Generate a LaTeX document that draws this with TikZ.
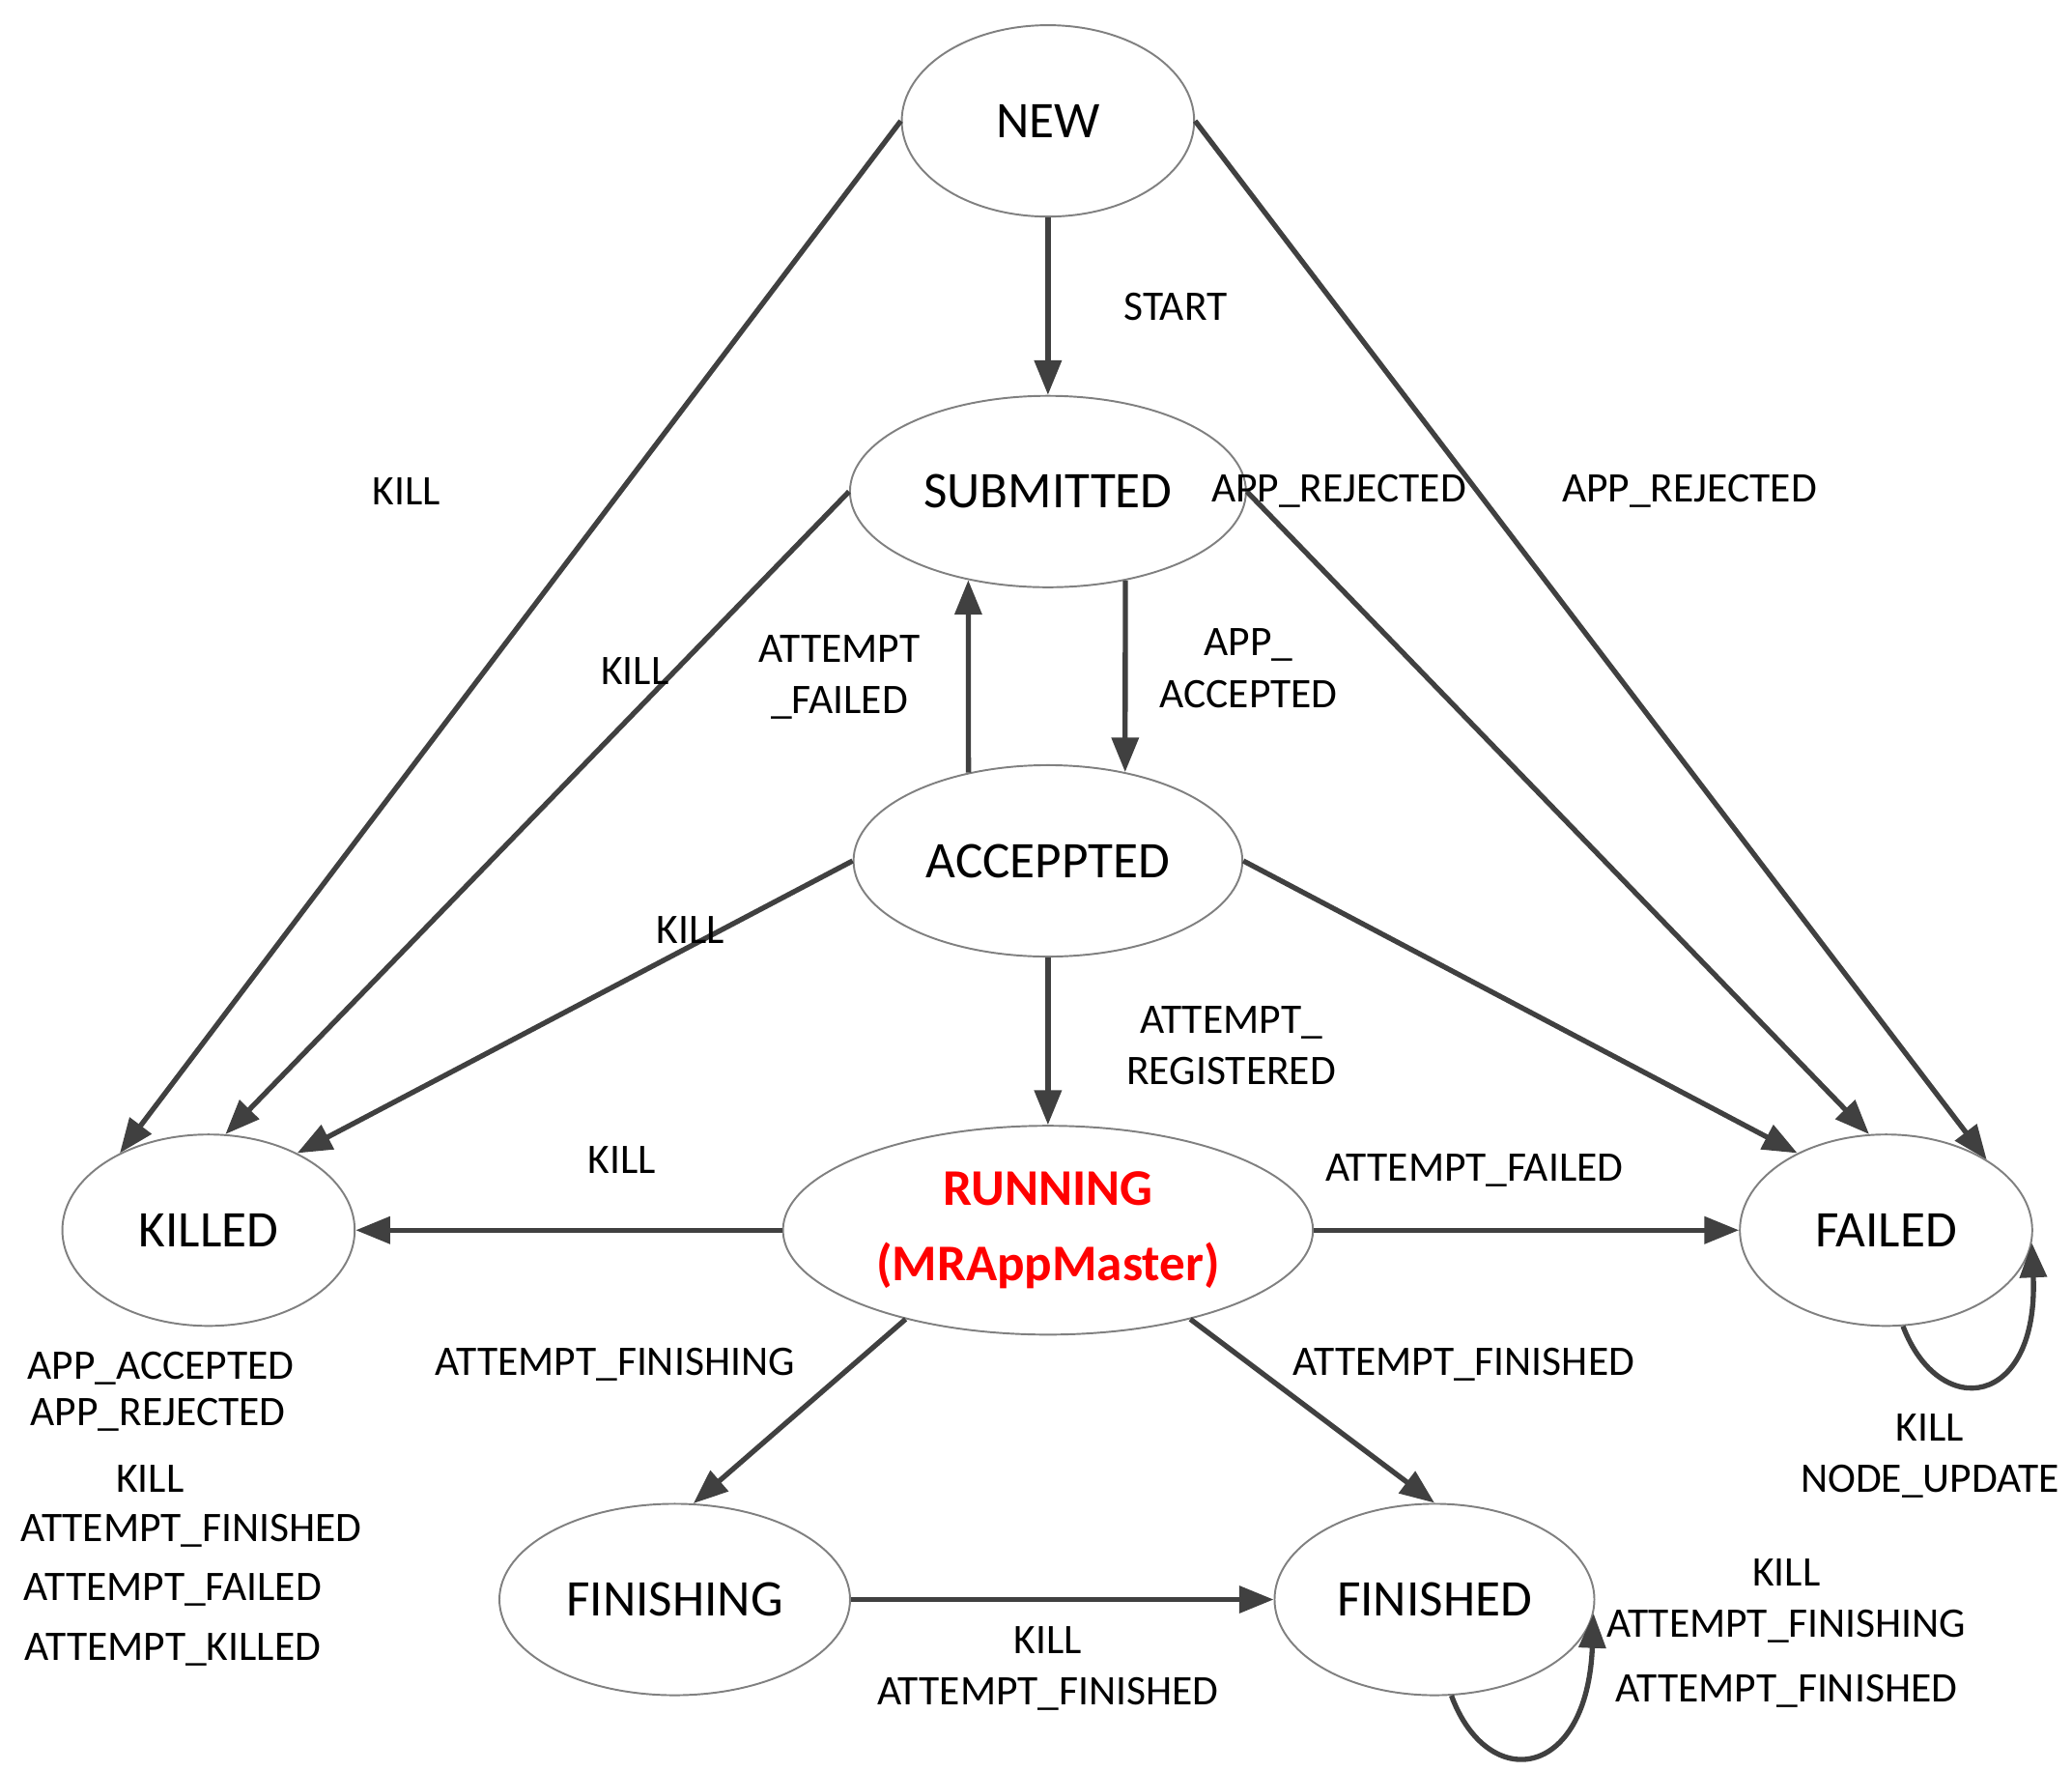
\documentclass[tikz,border=0pt]{standalone}
\usepackage{fontspec}
\setmainfont{Carlito}
\usetikzlibrary{arrows.meta,shapes.geometric}
\definecolor{edgegray}{RGB}{64,64,64}
\tikzset{
  pointer/.style={-{Triangle[length=0.26cm,width=0.2cm]}, draw=edgegray, line width=1.1pt},
}
\begin{document}
\begin{tikzpicture}[x=0.01cm,y=-0.01cm,
            state/.style={ellipse,draw=gray,thin,minimum width=2.2cm,minimum height=1.44cm,font=\fontsize{11}{13}\selectfont},
            lbl/.style={font=\fontsize{9}{11}\selectfont,align=center}]
  \useasboundingbox (0,0) rectangle (1560,1333);

  \node[state] (new) at (789,91) {NEW};
  \node[state] (submitted) at (789,370) {SUBMITTED};
  \node[state] (accepted) at (789,648) {ACCEPPTED};
  \node[state,minimum width=3.4cm,text=red,font=\fontsize{11}{16}\selectfont\bfseries,align=center] (running) at (789,926) {RUNNING\\(MRAppMaster)};
  \node[state] (killed) at (157,926) {KILLED};
  \node[state] (failed) at (1420,926) {FAILED};
  \node[state] (finishing) at (508,1204) {FINISHING};
  \node[state] (finished) at (1080,1204) {FINISHED};

  \draw[pointer] (new.west) -- (killed.139);
  \draw[pointer] (new.south) -- (submitted.north);
  \draw[pointer] (new.east) -- (failed.35);
  \draw[pointer] (submitted.west) -- (killed.80);
  \draw[pointer] (submitted.east) -- (failed.100);
  \draw[pointer] (submitted.-49) -- (accepted.49);
  \draw[pointer] (accepted.132) -- (submitted.-132);
  \draw[pointer] (accepted.west) -- (killed.41);
  \draw[pointer] (accepted.east) -- (failed.139);
  \draw[pointer] (accepted.south) -- (running.north);
  \draw[pointer] (running.west) -- (killed.east);
  \draw[pointer] (running.east) -- (failed.west);
  \draw[pointer] (running.-148) -- (finishing.79);
  \draw[pointer] (running.-32) -- (finished.north);
  \draw[pointer] (finishing.east) -- (finished.west);
  \draw[pointer] (failed.-80) .. controls (1460,1070) and (1535,1060) .. (failed.-5);
  \draw[pointer] (finished.-80) .. controls (1120,1350) and (1195,1340) .. (finished.-5);

  \node[lbl] (l1) at (306,370) {KILL};
  \node[lbl] (l2) at (885,231) {START};
  \node[lbl] (l3) at (1272,370) {APP\_REJECTED};
  \node[lbl] (l4) at (478,505) {KILL};
  \node[lbl] (l5) at (1008,370) {APP\_REJECTED};
  \node[lbl] (l6) at (940,503) {APP\_\\ACCEPTED};
  \node[lbl] (l7) at (632,510) {ATTEMPT\\\_FAILED};
  \node[lbl] (l8) at (520,700) {KILL};
  \node[lbl] (l9) at (927,787) {ATTEMPT\_\\REGISTERED};
  \node[lbl] (l10) at (468,873) {KILL};
  \node[lbl] (l11) at (1110,881) {ATTEMPT\_FAILED};
  \node[lbl] (l12) at (463,1027) {ATTEMPT\_FINISHING};
  \node[lbl] (l13) at (1102,1027) {ATTEMPT\_FINISHED};
  \node[lbl] (l14) at (789,1256) {KILL\\ATTEMPT\_FINISHED};
  \node[lbl] (l15) at (1453,1096) {KILL\\NODE\_UPDATE};
  \node[lbl] (l16) at (1345,1205) {KILL\\ATTEMPT\_FINISHING};
  \node[lbl] (l17) at (1345,1273) {ATTEMPT\_FINISHED};
  \node[lbl] (k1) at (121,1030) {APP\_ACCEPTED};
  \node[lbl] (k2) at (119,1065) {APP\_REJECTED};
  \node[lbl] (k3) at (113,1113) {KILL};
  \node[lbl] (k4) at (144,1152) {ATTEMPT\_FINISHED};
  \node[lbl] (k5) at (130,1197) {ATTEMPT\_FAILED};
  \node[lbl] (k6) at (130,1242) {ATTEMPT\_KILLED};
\end{tikzpicture}
\end{document}
